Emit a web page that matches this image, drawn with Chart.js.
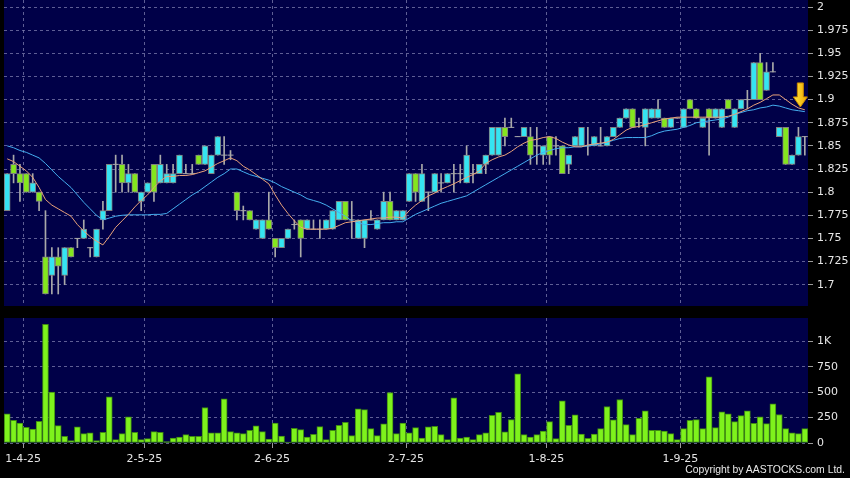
<!DOCTYPE html>
<html><head><meta charset="utf-8">
<script src="https://cdn.jsdelivr.net/npm/chart.js@4.4.0/dist/chart.umd.min.js"></script>
<style>
html,body{margin:0;padding:0;background:#000;width:850px;height:478px;overflow:hidden;}
#cP{position:absolute;left:0;top:0;}
#cV{position:absolute;left:0;top:310px;}
#copy{position:absolute;right:5px;top:464px;color:#e8e8e8;font:10.4px "Liberation Sans",Arial,sans-serif;white-space:nowrap;}
</style></head><body>
<canvas id="cP" width="850" height="306"></canvas>
<canvas id="cV" width="850" height="168"></canvas>
<div id="copy">Copyright by AASTOCKS.com Ltd.</div>
<script>
// ---- data ----
const opens  = [1.78,1.83,1.82,1.82,1.80,1.80,1.73,1.71,1.73,1.71, 1.74,1.75,1.75,1.74,1.73,1.77,1.78,1.83,1.83,1.81, 1.82,1.79,1.80,1.83,1.81,1.81,1.81,1.82,1.82,1.82, 1.84,1.83,1.82,1.84,1.84,1.84,1.80,1.78,1.78,1.76, 1.75,1.77,1.75,1.74,1.75,1.765,1.77,1.76,1.76,1.76, 1.76,1.76,1.77,1.79,1.77,1.75,1.75,1.77,1.76,1.77, 1.79,1.77,1.77,1.79,1.82,1.79,1.80,1.80,1.81,1.81, 1.82,1.82,1.81,1.82,1.82,1.83,1.84,1.84,1.87,1.87, 1.86,1.86,1.86,1.85,1.84,1.86,1.85,1.85,1.83,1.85, 1.85,1.85,1.85,1.85,1.85,1.86,1.87,1.88,1.89,1.875, 1.87,1.88,1.88,1.88,1.87,1.88,1.87,1.90,1.89,1.87, 1.89,1.88,1.87,1.90,1.87,1.89,1.90,1.90,1.94,1.91, 1.93,1.86,1.87,1.83,1.84,1.86];
const highs  = [1.82,1.84,1.83,1.82,1.82,1.80,1.78,1.74,1.74,1.74, 1.74,1.75,1.77,1.74,1.76,1.79,1.83,1.84,1.84,1.83, 1.82,1.80,1.81,1.83,1.84,1.83,1.83,1.84,1.83,1.83, 1.84,1.85,1.84,1.86,1.86,1.845,1.80,1.785,1.78,1.77, 1.77,1.80,1.75,1.75,1.76,1.77,1.77,1.77,1.77,1.77, 1.77,1.78,1.79,1.79,1.79,1.77,1.77,1.78,1.77,1.80, 1.80,1.78,1.78,1.82,1.82,1.83,1.80,1.82,1.82,1.82, 1.83,1.83,1.85,1.83,1.83,1.84,1.87,1.87,1.88,1.88, 1.86,1.87,1.87,1.87,1.85,1.86,1.86,1.85,1.84,1.86, 1.87,1.87,1.86,1.87,1.86,1.87,1.88,1.89,1.89,1.88, 1.89,1.89,1.90,1.88,1.88,1.88,1.89,1.90,1.89,1.88, 1.89,1.89,1.89,1.90,1.89,1.90,1.91,1.94,1.95,1.94, 1.94,1.87,1.87,1.84,1.87,1.86];
const lows   = [1.78,1.81,1.79,1.80,1.80,1.78,1.69,1.69,1.69,1.70, 1.73,1.74,1.75,1.73,1.73,1.76,1.78,1.80,1.80,1.80, 1.80,1.78,1.80,1.79,1.81,1.81,1.81,1.82,1.82,1.82, 1.83,1.83,1.82,1.84,1.83,1.835,1.77,1.77,1.77,1.76, 1.75,1.76,1.73,1.74,1.75,1.76,1.73,1.76,1.76,1.75, 1.76,1.76,1.77,1.77,1.75,1.75,1.74,1.77,1.76,1.77, 1.77,1.77,1.77,1.79,1.79,1.79,1.78,1.80,1.80,1.81, 1.80,1.81,1.81,1.81,1.82,1.82,1.84,1.84,1.85,1.87, 1.86,1.86,1.83,1.83,1.83,1.83,1.84,1.82,1.82,1.85, 1.85,1.84,1.85,1.85,1.85,1.86,1.87,1.88,1.87,1.87, 1.85,1.88,1.88,1.87,1.87,1.88,1.87,1.89,1.88,1.87, 1.84,1.88,1.87,1.89,1.87,1.89,1.89,1.90,1.90,1.91, 1.93,1.86,1.83,1.83,1.84,1.84];
const closes = [1.82,1.82,1.81,1.80,1.81,1.79,1.69,1.73,1.72,1.74, 1.73,1.75,1.76,1.74,1.76,1.78,1.83,1.83,1.81,1.82, 1.80,1.80,1.81,1.80,1.83,1.82,1.82,1.84,1.82,1.82, 1.83,1.85,1.84,1.86,1.84,1.84,1.78,1.78,1.77,1.77, 1.77,1.76,1.74,1.75,1.76,1.765,1.75,1.77,1.76,1.76, 1.77,1.78,1.79,1.77,1.77,1.77,1.77,1.77,1.77,1.79, 1.77,1.78,1.78,1.82,1.80,1.82,1.80,1.82,1.81,1.82, 1.82,1.82,1.84,1.82,1.83,1.84,1.87,1.87,1.86,1.87, 1.86,1.87,1.84,1.85,1.85,1.84,1.85,1.82,1.84,1.86, 1.87,1.85,1.86,1.85,1.86,1.87,1.88,1.89,1.87,1.875, 1.89,1.89,1.89,1.87,1.88,1.88,1.89,1.89,1.88,1.88, 1.88,1.89,1.89,1.89,1.89,1.90,1.90,1.94,1.90,1.93, 1.93,1.87,1.83,1.84,1.86,1.86];
const volumes = [286,224,197,155,138,214,1168,500,171,66, 23,158,92,99,23,105,454,33,92,257, 105,33,43,112,105,13,49,59,82,66, 66,349,99,99,434,112,99,92,125,168, 112,39,197,69,10,145,132,59,86,161, 33,125,174,204,72,336,329,141,72,188, 497,92,197,99,151,49,158,164,82,33, 444,49,59,33,82,99,273,303,109,230, 681,82,59,82,118,211,43,415,174,276, 89,46,89,141,359,227,428,181,82,243, 316,125,125,118,92,33,141,224,230,141, 651,151,306,286,211,270,316,194,257,191, 385,280,141,99,92,141];
const ma10 = [1.836,1.833,1.828,1.823,1.816,1.805,1.792,1.786,1.782,1.778, 1.774,1.765,1.758,1.752,1.747,1.743,1.752,1.762,1.769,1.776, 1.784,1.791,1.797,1.805,1.812,1.817,1.817,1.818,1.818,1.819, 1.821,1.823,1.827,1.831,1.834,1.837,1.834,1.828,1.824,1.819, 1.814,1.809,1.797,1.786,1.777,1.769,1.762,1.760,1.760,1.760, 1.760,1.761,1.764,1.767,1.768,1.769,1.770,1.771,1.772,1.772, 1.773,1.773,1.772,1.780,1.786,1.791,1.796,1.799,1.803,1.806, 1.809,1.8125,1.816,1.819,1.823,1.831,1.835,1.838,1.840,1.844, 1.849,1.853,1.856,1.857,1.859,1.860,1.858,1.854,1.851,1.849, 1.849,1.851,1.852,1.853,1.854,1.857,1.862,1.867,1.870,1.871, 1.873,1.875,1.877,1.879,1.880,1.881,1.881,1.881,1.881,1.881, 1.881,1.881,1.881,1.882,1.884,1.887,1.890,1.894,1.897,1.901, 1.905,1.905,1.900,1.895,1.891,1.889];
const ma20 = [1.850,1.848,1.845,1.843,1.840,1.837,1.831,1.824,1.817,1.811, 1.805,1.797,1.789,1.782,1.775,1.770,1.772,1.774,1.775,1.7755, 1.7755,1.7755,1.7755,1.776,1.776,1.777,1.782,1.787,1.792,1.797, 1.801,1.806,1.811,1.816,1.820,1.825,1.825,1.822,1.819,1.817, 1.815,1.813,1.810,1.806,1.803,1.800,1.797,1.793,1.791,1.789, 1.786,1.782,1.778,1.774,1.769,1.767,1.765,1.765,1.766,1.767, 1.767,1.768,1.768,1.772,1.776,1.779,1.782,1.785,1.788,1.790, 1.792,1.794,1.796,1.800,1.804,1.808,1.812,1.816,1.820,1.824, 1.828,1.832,1.836,1.840,1.843,1.845,1.847,1.848,1.848,1.849, 1.849,1.850,1.851,1.852,1.854,1.856,1.858,1.859,1.859,1.859, 1.859,1.861,1.864,1.866,1.867,1.868,1.870,1.872,1.875,1.876, 1.877,1.878,1.879,1.881,1.884,1.886,1.888,1.889,1.891,1.892, 1.894,1.893,1.891,1.889,1.888,1.887];
const monthStartIdx = [3,22,42,63,85,106];
const monthLabels   = ['1-4-25','2-5-25','2-6-25','2-7-25','1-8-25','1-9-25'];
const priceTicks  = [1.7,1.725,1.75,1.775,1.8,1.825,1.85,1.875,1.9,1.925,1.95,1.975,2];
const volumeTicks = [0,250,500,750,1000];
const volumeTickLabels = ['0','250','500','750','1K'];
const signal = {index:124.3, top:1.918, tip:1.892};

// ---- styling ----
const NAVY='#000048', GRID='rgba(125,125,175,0.75)', TXT='#e6e6e6';
const CYAN='#35e4f2', GREEN='#84e61e', BODY_BORDER='#808080', WICK='#a9a9a9';
const FONT={family:'"DejaVu Sans", sans-serif', size:11};
const N = closes.length;
const cats = closes.map((_,i)=>String(i));

const bgPlugin = {id:'bg', beforeDraw(c){const a=c.chartArea,x=c.ctx;x.save();x.fillStyle=NAVY;x.fillRect(a.left,a.top,a.right-a.left,a.bottom-a.top);x.restore();}};
const arrowPlugin = {id:'arrow', afterDatasetsDraw(c){
  const xs=c.scales.x, ys=c.scales.y, ctx=c.ctx;
  const cx=xs.getPixelForValue(signal.index), y0=ys.getPixelForValue(signal.top), y1=ys.getPixelForValue(signal.tip);
  const h=y1-y0, hh=h*0.42;
  ctx.save();
  const g=ctx.createLinearGradient(cx-7,0,cx+7,0); g.addColorStop(0,'#ffe640'); g.addColorStop(1,'#f0a800');
  ctx.fillStyle=g; ctx.strokeStyle='#c98a00'; ctx.lineWidth=1;
  ctx.beginPath();
  ctx.moveTo(cx-3,y0); ctx.lineTo(cx+3,y0); ctx.lineTo(cx+3,y1-hh); ctx.lineTo(cx+7,y1-hh);
  ctx.lineTo(cx,y1); ctx.lineTo(cx-7,y1-hh); ctx.lineTo(cx-3,y1-hh); ctx.closePath();
  ctx.fill(); ctx.stroke(); ctx.restore();
}};

function xGridAxis(showLabels){
  return {type:'linear', position:'bottom', min:-0.5, max:N-0.5,
    afterBuildTicks(s){ s.ticks = monthStartIdx.map(i=>({value:i-0.5})); },
    afterFit(s){ s.height = showLabels?35:0; s.paddingLeft=0; s.paddingRight=0; s.paddingTop=0; s.paddingBottom=0; },
    grid:{color:GRID, drawTicks:showLabels, tickLength:5, tickColor:'#9a9a9a'},
    border:{display:false, dash:[3,3]},
    ticks:{display:showLabels, color:TXT, font:FONT, padding:5, maxRotation:0, autoSkip:false,
      callback(v){ const k=monthStartIdx.indexOf(Math.round(v+0.5)); return k>=0?monthLabels[k]:''; }}
  };
}
function yAxis(min,max,ticks,fmt){
  return {position:'right', min, max,
    afterBuildTicks(s){ s.ticks = ticks.map(v=>({value:v})); },
    afterFit(s){ s.width=42; s.paddingTop=0; s.paddingBottom=0; s.paddingLeft=0; s.paddingRight=0; },
    grid:{color:GRID, tickLength:5, tickColor:'#9a9a9a'},
    border:{display:false, dash:[3,3]},
    ticks:{color:TXT, font:FONT, padding:4, callback:fmt}
  };
}

Chart.defaults.animation=false;
new Chart(document.getElementById('cP'), {
  data:{labels:cats, datasets:[
    {type:'line', data:ma10, borderColor:'#e9a27a', borderWidth:1, pointRadius:0, tension:0, order:1},
    {type:'line', data:ma20, borderColor:'#45aef0', borderWidth:1, pointRadius:0, tension:0, order:2},
    {type:'line', data:opens.map((o,i)=>o===closes[i]?o:null), showLine:false, pointStyle:'line', pointRadius:3, borderColor:WICK, borderWidth:1, order:3},
    {type:'bar', data:opens.map((o,i)=>o===closes[i]?null:[o,closes[i]]), grouped:false, barThickness:6,
      backgroundColor:opens.map((o,i)=>closes[i]>o?CYAN:GREEN), borderColor:BODY_BORDER, borderWidth:1, borderSkipped:false, order:4},
    {type:'bar', data:lows.map((l,i)=>[l,highs[i]]), grouped:false, barThickness:1, backgroundColor:WICK, borderWidth:0, order:5}
  ]},
  options:{responsive:false, devicePixelRatio:1, animation:false,
    layout:{autoPadding:false, padding:{left:4,right:0,top:0,bottom:0}},
    plugins:{legend:{display:false}, tooltip:{enabled:false}},
    scales:{
      x:{type:'category', display:false, offset:true},
      xg: xGridAxis(false),
      y: yAxis(1.677, 2.0076, priceTicks, v=>String(+v.toFixed(3)))
    }},
  plugins:[bgPlugin, arrowPlugin]
});
new Chart(document.getElementById('cV'), {
  data:{labels:cats, datasets:[
    {type:'bar', data:volumes, barThickness:6, backgroundColor:'#7ef21c', borderColor:'#3f8a12', borderWidth:1, borderSkipped:false}
  ]},
  options:{responsive:false, devicePixelRatio:1, animation:false,
    layout:{autoPadding:false, padding:{left:4,right:0,top:8,bottom:0}},
    plugins:{legend:{display:false}, tooltip:{enabled:false}},
    scales:{
      x:{type:'category', display:false, offset:true},
      xg: xGridAxis(true),
      y: yAxis(0, 1230, volumeTicks, v=>volumeTickLabels[volumeTicks.indexOf(v)] ?? '')
    }},
  plugins:[bgPlugin]
});
</script>
</body></html>
